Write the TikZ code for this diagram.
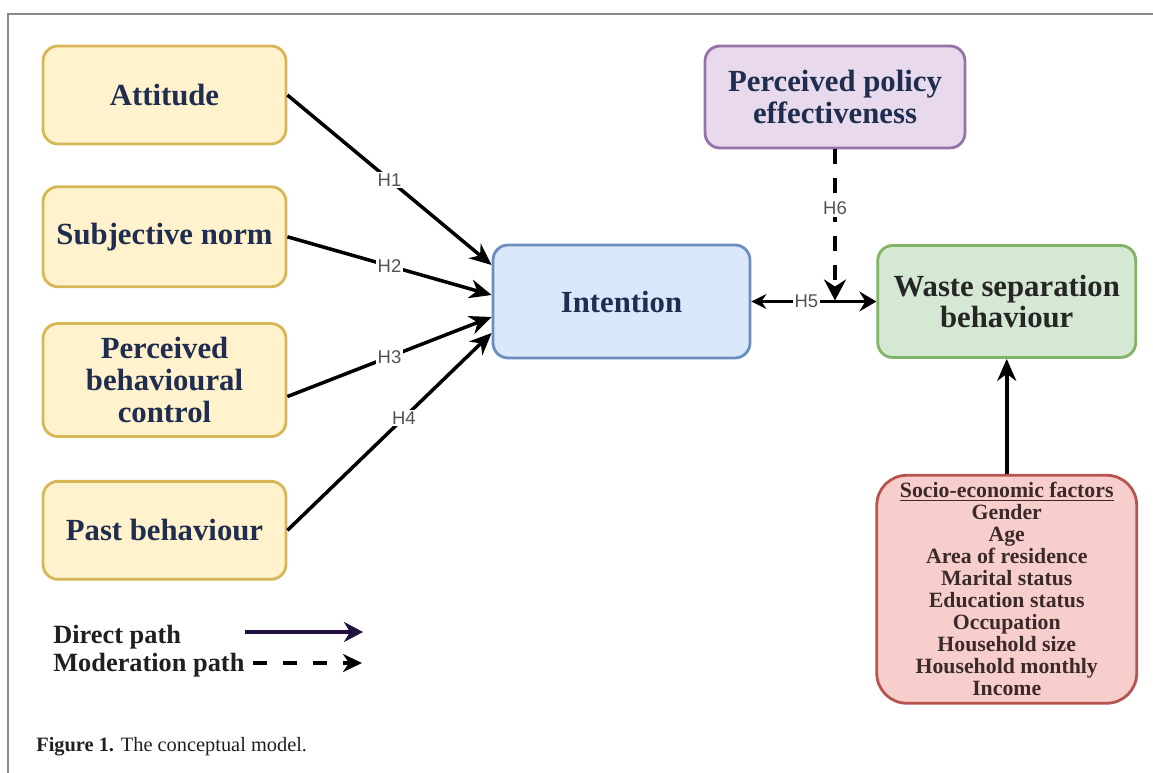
\documentclass[tikz,border=0pt]{standalone}
\usepackage{fontspec}
\setmainfont{Liberation Serif}
\newfontfamily\hlabfont{Liberation Sans}
\usepackage{tikz}
\usetikzlibrary{arrows.meta,positioning,calc}
\usepackage{xcolor}
\definecolor{TPBFill}{HTML}{FFF2CC}
\definecolor{TPBLine}{HTML}{D6B656}
\definecolor{IntFill}{HTML}{DAE8FC}
\definecolor{IntLine}{HTML}{6C8EBF}
\definecolor{WSBFill}{HTML}{D5E8D4}
\definecolor{WSBLine}{HTML}{82B366}
\definecolor{PPEFill}{HTML}{E8DAEC}
\definecolor{PPELine}{HTML}{9673A6}
\definecolor{SEFFill}{HTML}{F8CECC}
\definecolor{SEFLine}{HTML}{B85450}
\definecolor{BoxText}{HTML}{1F2D50}
\definecolor{SEFText}{HTML}{3A2A2A}
\definecolor{LegArrow}{HTML}{22103F}
\definecolor{FrameGray}{HTML}{8A8A8A}

\begin{document}
\begin{tikzpicture}[x=0.02cm,y=-0.02cm,node distance=0.84cm,
box/.style={rectangle,rounded corners=0.3cm,line width=1.6pt,align=center,inner sep=0pt,minimum width=4.86cm,font=\fontsize{17.5}{18}\selectfont\bfseries,text=BoxText},
tpb/.style={box,draw=TPBLine,fill=TPBFill},
sebox/.style={box,rounded corners=0.6cm,draw=SEFLine,fill=SEFFill,minimum width=5.2cm,minimum height=4.56cm,font=\fontsize{12.4}{12.5}\selectfont\bfseries,text=SEFText},
arrow/.style={-{Stealth[length=4.4mm,width=3.8mm,inset=1.4mm]},line width=2pt,black},
biarrow/.style={{Stealth[length=3mm,width=3mm,inset=1mm]}-{Stealth[length=3.4mm,width=4mm,inset=1.2mm]},line width=1.6pt,black},
modarrow/.style={-{Stealth[length=4.2mm,width=4.4mm,inset=1.4mm]},line width=2.2pt,black,dash pattern=on 0.3cm off 0.28cm},
hlab/.style={fill=white,inner sep=1pt,font=\hlabfont\fontsize{10.5}{11}\selectfont,text=black!68},
legtext/.style={anchor=base west,inner sep=0pt,font=\fontsize{15}{16}\selectfont\bfseries,text=black!88}]
\useasboundingbox (0,0) rectangle (1153,773);
% frame
\draw[FrameGray,line width=1.1pt] (8,773) -- (8,14) -- (1153,14);
% constructs
\node[tpb,minimum height=1.96cm] (att) at (164.5,95) {Attitude};
\node[tpb,minimum height=2cm,below=0.8cm of att] (sn) {Subjective norm};
\node[tpb,minimum height=2.26cm,below=0.68cm of sn] (pbc) {Perceived\\behavioural\\control};
\node[tpb,minimum height=1.96cm,below=0.84cm of pbc] (pb) {Past behaviour};
\node[box,draw=IntLine,fill=IntFill,minimum width=5.14cm,minimum height=2.26cm] (int) at (621.5,301.5) {Intention};
\node[box,draw=WSBLine,fill=WSBFill,minimum width=5.16cm,minimum height=2.24cm,right=2.5cm of int,text=black!85] (wsb) {Waste separation\\behaviour};
\node[box,draw=PPELine,fill=PPEFill,minimum width=5.2cm,minimum height=2.04cm] (ppe) at (835,97) {Perceived policy\\effectiveness};
\node[sebox,below=2.3cm of wsb] (sef) {\underline{Socio-economic factors}\\Gender\\Age\\Area of residence\\Marital status\\Education status\\Occupation\\Household size\\Household monthly\\Income};
% hypotheses
\foreach \s/\so/\to/\l/\p in {att/0/-36.5/H1/0.5,sn/0/-6.5/H2/0.5,pbc/16.5/15.5/H3/0.5,pb/0/31.5/H4/0.57}{\draw[arrow]($(\s.east)+(0,\so)$)--node[hlab,pos=\p]{\l}($(int.west)+(0,\to)$);}
\draw[biarrow](int)--node[hlab,pos=0.44]{H5}(wsb);
\draw[modarrow](ppe)--node[hlab,pos=0.39]{H6}($(ppe.south |- int.east)+(0,-1)$);
\draw[arrow](sef)--(wsb);
% legend
\node[legtext] (dp) at (53,643) {Direct path};
\node[legtext] (mp) at (53,671) {Moderation path};
\coordinate (dpa) at (245,632);
\coordinate (dpb) at (363,632);
\coordinate (mpa) at (253,663);
\coordinate (mpb) at (362,663);
\draw[-{Stealth[length=3.8mm,width=4mm,inset=1.2mm]},line width=2.2pt,LegArrow](dpa)--(dpb);
\draw[-{Stealth[length=3.8mm,width=3.6mm,inset=1.2mm]},line width=2.2pt,black,dash pattern=on 0.28cm off 0.32cm](mpa)--(mpb);
% caption
\node[anchor=base west,inner sep=0pt,font=\fontsize{11.6}{13}\selectfont,text=black!88] (cap) at (36,751) {\textbf{Figure 1.} The conceptual model.};
\end{tikzpicture}
\end{document}
